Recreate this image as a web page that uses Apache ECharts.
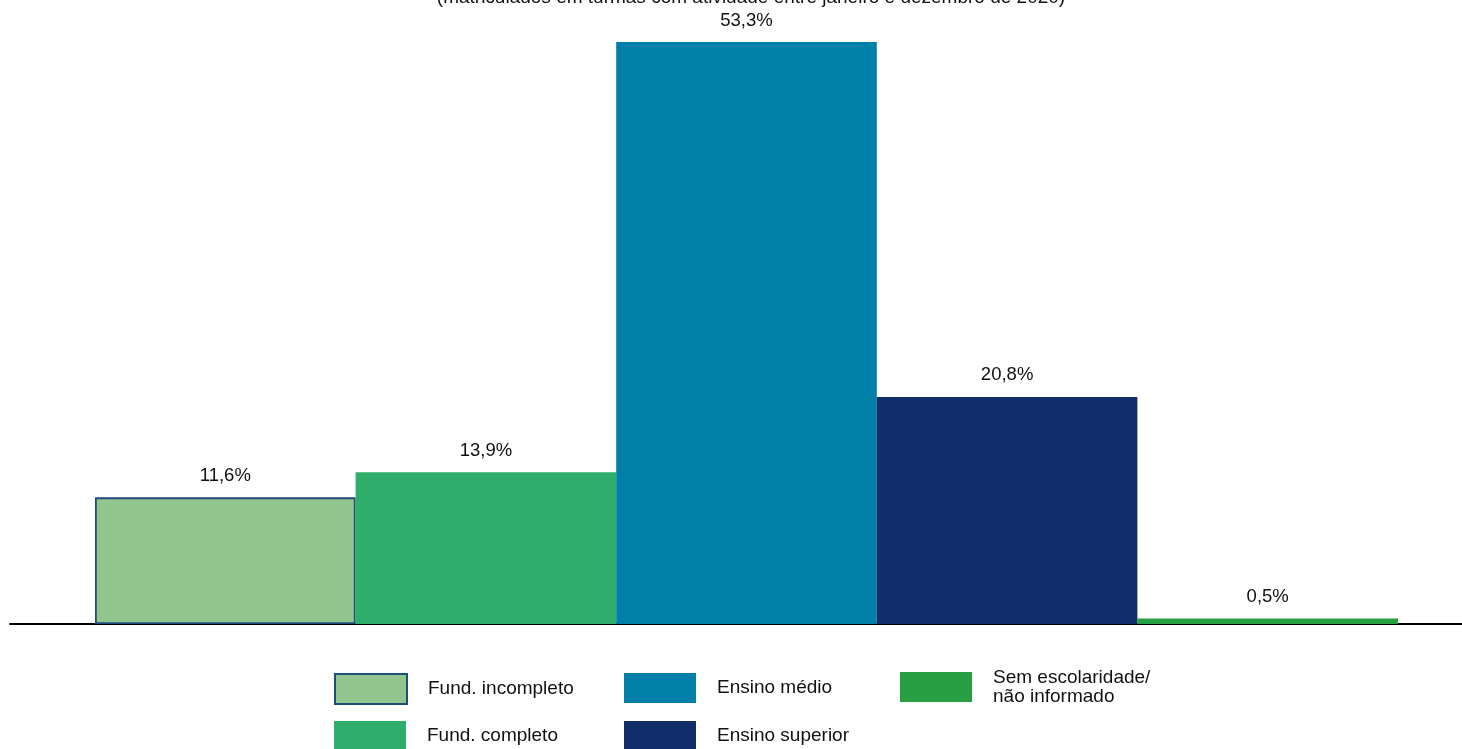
<!DOCTYPE html>
<html>
<head>
<meta charset="utf-8">
<script src="https://cdn.jsdelivr.net/npm/echarts@6/dist/echarts.min.js"></script>
<style>
html,body{margin:0;padding:0;background:#fff;}
#chart{width:1462px;height:749px;}
</style>
</head>
<body>
<div id="chart"></div>
<script>
var categories = ['Fund. incompleto', 'Fund. completo', 'Ensino médio', 'Ensino superior', 'Sem escolaridade/\nnão informado'];
var values = [11.6, 13.9, 53.3, 20.8, 0.5];
var colors = ['#93C68E', '#2EAD6B', '#0080A8', '#112E6A', '#27A043'];
var titleText = '(matriculados em turmas com atividade entre janeiro e dezembro de 2020)';

var font = 'Liberation Sans, Arial, sans-serif';
var series = categories.map(function (name, i) {
  return {
    name: name,
    type: 'bar',
    xAxisIndex: 0,
    yAxisIndex: 0,
    data: [values[i]],
    barGap: '0%',
    barCategoryGap: '0%',
    itemStyle: i === 0 ? { color: colors[i], borderColor: '#1F4E79', borderWidth: 1.8 } : { color: colors[i] },
    label: {
      show: true,
      position: 'top',
      distance: 12,
      color: '#111',
      fontFamily: font,
      fontSize: 18.5,
      formatter: function (p) { return String(p.value).replace('.', ',') + '%'; }
    }
  };
});

// legend slots: [category index, left, top]
var legendSlots = [[0, 334, 673], [1, 334, 721], [2, 624, 673], [3, 624, 721], [4, 900, 668]];
var legends = legendSlots.map(function (s) {
  return {
    left: s[1],
    top: s[2],
    padding: 0,
    itemWidth: 72,
    itemHeight: 30,
    icon: 'rect',
    selectedMode: false,
    data: [categories[s[0]]],
    textStyle: { fontFamily: font, fontSize: 19, color: '#111', padding: [0, 0, 0, 16], lineHeight: 19 }
  };
});

var chart = echarts.init(document.getElementById('chart'));
chart.setOption({
  animation: false,
  backgroundColor: '#fff',
  title: {
    text: titleText,
    left: 746,
    textAlign: 'center',
    top: -17,
    textStyle: { fontFamily: font, fontSize: 19, fontWeight: 'normal', color: '#111' }
  },
  grid: [
    { left: 95, right: 64, top: 42, bottom: 125 },
    { left: 10, right: 0, top: 42, bottom: 125 }
  ],
  xAxis: [
    { type: 'category', gridIndex: 0, data: [''], axisLine: { show: false }, axisTick: { show: false }, axisLabel: { show: false } },
    { type: 'category', gridIndex: 1, data: [''], axisLine: { show: true, lineStyle: { color: '#000', width: 2 } }, axisTick: { show: false }, axisLabel: { show: false } }
  ],
  yAxis: [
    { type: 'value', gridIndex: 0, min: 0, max: 53.3, show: false, splitLine: { show: false } },
    { type: 'value', gridIndex: 1, min: 0, max: 53.3, show: false, splitLine: { show: false } }
  ],
  legend: legends,
  series: series
});
</script>
</body>
</html>
